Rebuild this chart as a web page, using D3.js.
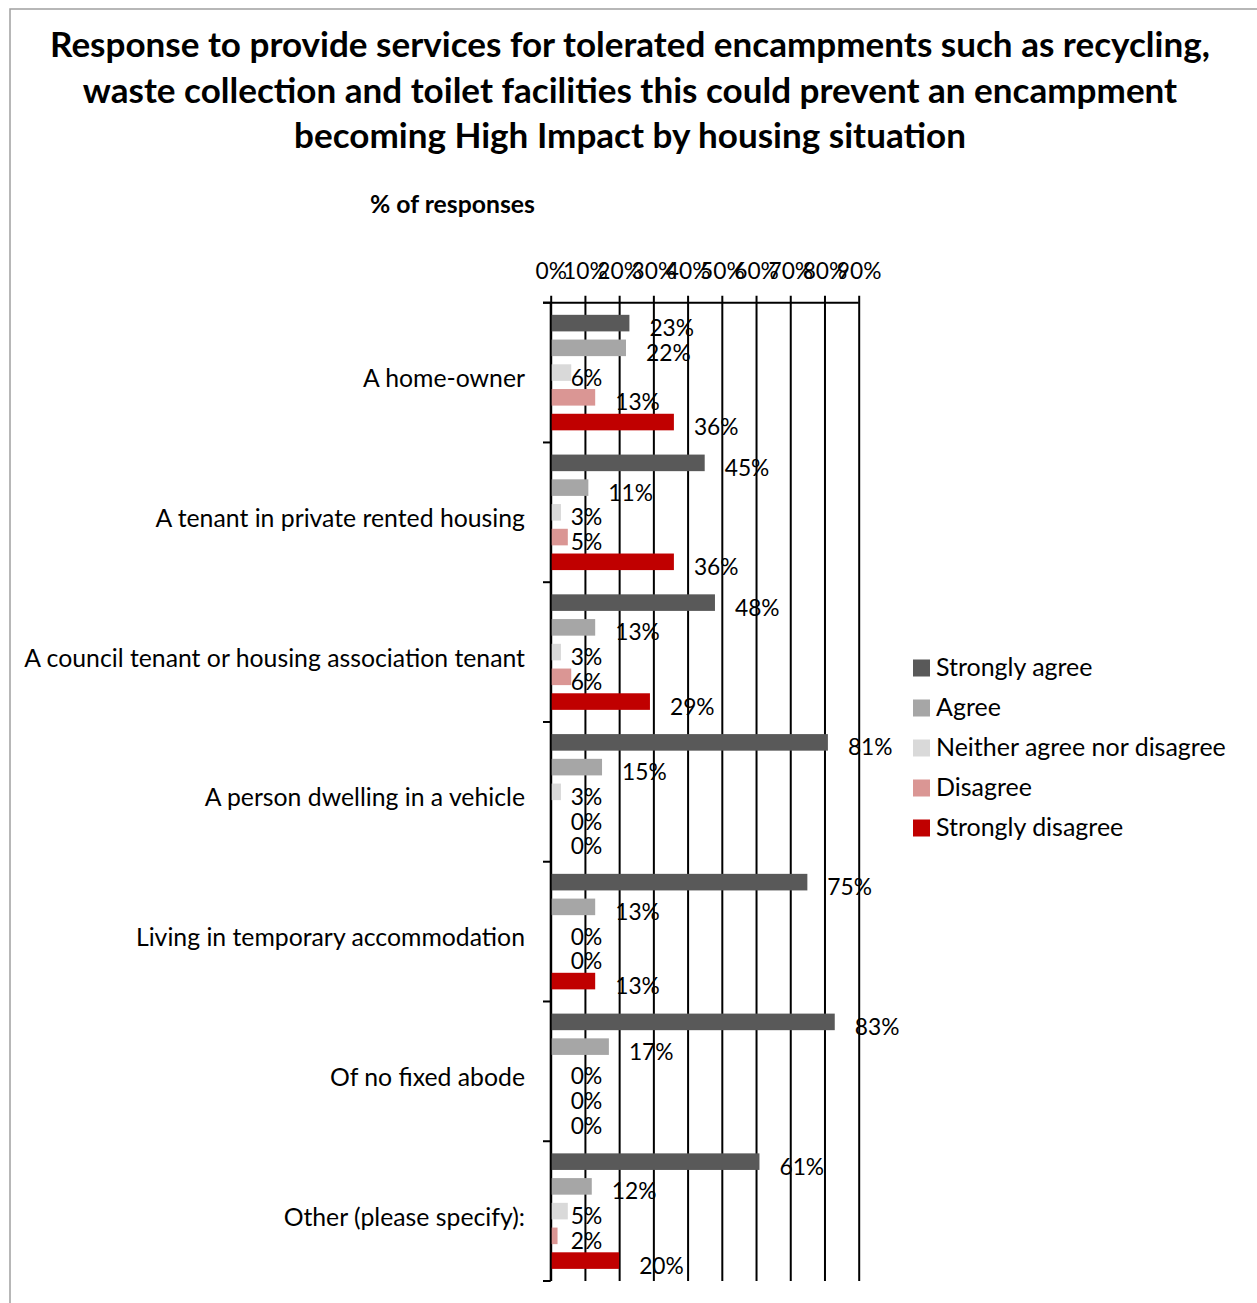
<!DOCTYPE html>
<html>
<head>
<meta charset="utf-8">
<script src="https://cdn.jsdelivr.net/npm/d3@7"></script>
<style>
  html, body { margin: 0; padding: 0; background: #fff; }
  svg { display: block; }
</style>
</head>
<body>
<svg id="chart" width="1257" height="1303"></svg>
<script>
// ---- data ----
const titleLines = [
  "Response to provide services for tolerated encampments such as recycling,",
  "waste collection and toilet facilities this could prevent an encampment",
  "becoming High Impact by housing situation"
];
const axisTitle = "% of responses";
const categories = [
  "A home-owner",
  "A tenant in private rented housing",
  "A council tenant or housing association tenant",
  "A person dwelling in a vehicle",
  "Living in temporary accommodation",
  "Of no fixed abode",
  "Other (please specify):"
];
const seriesNames = ["Strongly agree", "Agree", "Neither agree nor disagree", "Disagree", "Strongly disagree"];
const seriesColors = ["#595959", "#A6A6A6", "#D9D9D9", "#DA9694", "#C00000"];
const stronglyAgree = [23, 45, 48, 81, 75, 83, 61];
const agree         = [22, 11, 13, 15, 13, 17, 12];
const neither       = [6, 3, 3, 3, 0, 0, 5];
const disagree      = [13, 5, 6, 0, 0, 0, 2];
const stronglyDis   = [36, 36, 29, 0, 13, 0, 20];
const tickValues = [0, 10, 20, 30, 40, 50, 60, 70, 80, 90];
const tickLabels = ["0%", "10%", "20%", "30%", "40%", "50%", "60%", "70%", "80%", "90%"];

const seriesValues = [stronglyAgree, agree, neither, disagree, stronglyDis];

// ---- setup ----
const svg = d3.select("#chart");
const FONT = "Lato, 'Open Sans', sans-serif";

// find a font size at which a string renders at the wanted width
function fitSize(text, weight, width) {
  const t = svg.append("text").attr("font-family", FONT).attr("font-weight", weight)
    .attr("font-size", 100).text(text);
  const len = t.node().getComputedTextLength();
  t.remove();
  return 100 * width / len;
}

// frame
svg.append("path")
  .attr("d", "M10,1303 V9 H1257")
  .attr("fill", "none").attr("stroke", "#A0A0A0").attr("stroke-width", 1.5);

// title
const titleSize = fitSize(titleLines[0], "bold", 1160);
svg.append("g").selectAll("text").data(titleLines).join("text")
  .attr("x", 630).attr("y", (d, i) => 56.7 + i * 45.8)
  .attr("text-anchor", "middle")
  .attr("font-family", FONT).attr("font-weight", "bold")
  .attr("font-size", titleSize).attr("fill", "#000")
  .text(d => d);

// scales
const x = d3.scaleLinear().domain([0, 90]).range([550.7, 858.7]);
const y0 = d3.scaleBand().domain(categories).range([302.7, 1281]).padding(0);
const y1 = d3.scaleBand().domain(seriesNames).range([0, y0.bandwidth()])
  .paddingInner(0.33).paddingOuter(0.49);

// axis title
const axisTitleSize = fitSize(axisTitle, "bold", 165);
svg.append("text")
  .attr("x", 452.5).attr("y", 212.5).attr("text-anchor", "middle")
  .attr("font-family", FONT).attr("font-weight", "bold")
  .attr("font-size", axisTitleSize).text(axisTitle);

// value labels sit beneath the grid
const labelSize = fitSize("23%", "normal", 44.7);
const labelG = svg.append("g");
seriesNames.forEach((s, si) => {
  labelG.selectAll(null).data(seriesValues[si]).join("text")
    .attr("x", d => (d >= 10 ? x(d) : x(0)) + 20)
    .attr("y", (d, ci) => y0(categories[ci]) + y1(s) + y1.bandwidth() / 2 + 13)
    .attr("font-family", FONT).attr("font-size", labelSize).attr("fill", "#000")
    .text(d => d + "%");
});

// top value axis with gridlines
const axisG = svg.append("g").attr("transform", "translate(0,302.7)")
  .call(d3.axisTop(x).tickValues(tickValues).tickFormat((d, i) => tickLabels[i])
    .tickSize(-(1281 - 302.7)).tickSizeOuter(0));
axisG.select(".domain").remove();
axisG.selectAll(".tick line").attr("stroke", "#000").attr("stroke-width", 2)
  .attr("y1", -7);
axisG.selectAll(".tick text").attr("y", -24)
  .attr("font-family", FONT).attr("font-size", labelSize).attr("fill", "#000");
svg.append("line")
  .attr("x1", 543).attr("x2", x(90)).attr("y1", 302.7).attr("y2", 302.7)
  .attr("stroke", "#000").attr("stroke-width", 2);

// bars
const barG = svg.append("g");
seriesNames.forEach((s, si) => {
  barG.selectAll(null).data(seriesValues[si]).join("rect")
    .attr("x", x(0))
    .attr("y", (d, ci) => y0(categories[ci]) + y1(s))
    .attr("width", d => x(d) - x(0))
    .attr("height", y1.bandwidth())
    .attr("fill", seriesColors[si]);
});

// category axis
const boundaries = categories.map(c => y0(c)).concat([y0.range()[1]]);
svg.append("line")
  .attr("x1", x(0)).attr("x2", x(0)).attr("y1", 302.7).attr("y2", 1281)
  .attr("stroke", "#000").attr("stroke-width", 2);
svg.append("g").selectAll("line").data(boundaries).join("line")
  .attr("x1", 543).attr("x2", x(0)).attr("y1", d => d).attr("y2", d => d)
  .attr("stroke", "#000").attr("stroke-width", 2);

const catSize = fitSize(categories[2], "normal", 501);
svg.append("g").selectAll("text").data(categories).join("text")
  .attr("x", 525).attr("y", d => y0(d) + y0.bandwidth() / 2 + 14.5)
  .attr("text-anchor", "end")
  .attr("font-family", FONT).attr("font-size", catSize).attr("fill", "#000")
  .text(d => d);

// legend
const legendSize = fitSize(seriesNames[2], "normal", 290);
const legend = svg.append("g").selectAll("g").data(seriesNames).join("g")
  .attr("transform", (d, i) => `translate(913,${668 + i * 40})`);
legend.append("rect").attr("x", 0).attr("y", -8.5).attr("width", 17).attr("height", 17)
  .attr("fill", (d, i) => seriesColors[i]);
legend.append("text").attr("x", 23).attr("y", 8)
  .attr("font-family", FONT).attr("font-size", legendSize).attr("fill", "#000")
  .text(d => d);
</script>
</body>
</html>
